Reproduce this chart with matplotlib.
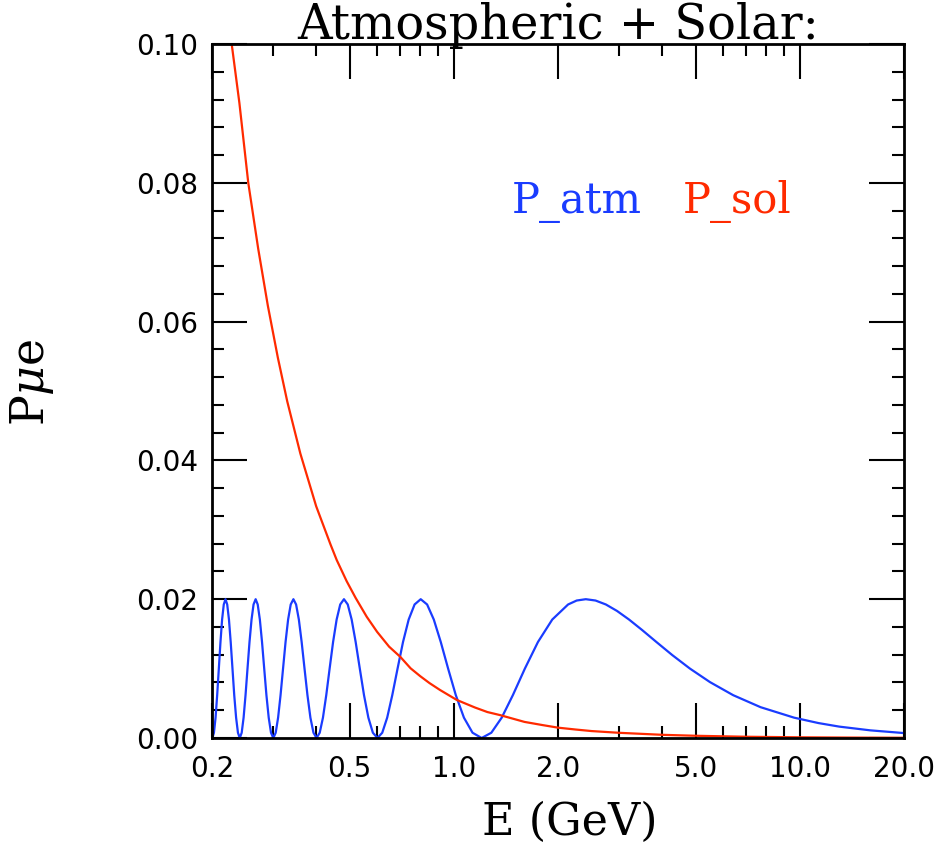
import matplotlib
matplotlib.use("Agg")
import matplotlib.pyplot as plt
from matplotlib.ticker import FixedLocator, FixedFormatter, NullFormatter

# P_atm curve (blue)
atm_E = [0.2000, 0.2005, 0.2026, 0.2048, 0.2070, 0.2093, 0.2116, 0.2139, 0.2163,
         0.2188, 0.2213, 0.2239, 0.2265, 0.2292, 0.2319, 0.2348, 0.2377,
         0.2406, 0.2437, 0.2468, 0.2500, 0.2533, 0.2567, 0.2602, 0.2637,
         0.2674, 0.2711, 0.2750, 0.2790, 0.2831, 0.2873, 0.2917, 0.2962,
         0.3008, 0.3056, 0.3105, 0.3156, 0.3209, 0.3263, 0.3319, 0.3377,
         0.3438, 0.3500, 0.3565, 0.3632, 0.3702, 0.3775, 0.3850, 0.3929,
         0.4011, 0.4096, 0.4185, 0.4278, 0.4375, 0.4477, 0.4584, 0.4695,
         0.4813, 0.4936, 0.5066, 0.5203, 0.5348, 0.5500, 0.5662, 0.5834,
         0.6016, 0.6210, 0.6417, 0.6638, 0.6876, 0.7130, 0.7404, 0.7701,
         0.8021, 0.8370, 0.8751, 0.9167, 0.9626, 1.0132, 1.0695, 1.1324,
         1.2032, 1.2834, 1.3751, 1.4809, 1.6043, 1.7501, 1.9251, 2.1390,
         2.2649, 2.4064, 2.5670, 2.7502, 2.9618, 3.2086, 3.5003, 3.8503,
         4.2781, 4.8129, 5.5004, 6.4171, 7.7006, 9.6257, 11.324, 13.0, 16.0, 20.0]
atm_P = [0.00005, 0.0, 0.00076, 0.00293, 0.00617, 0.0100, 0.01383, 0.01707, 0.01924,
         0.0200, 0.01924, 0.01707, 0.01383, 0.0100, 0.00617, 0.00293, 0.00076,
         0.0, 0.00076, 0.00293, 0.00617, 0.0100, 0.01383, 0.01707, 0.01924,
         0.0200, 0.01924, 0.01707, 0.01383, 0.0100, 0.00617, 0.00293, 0.00076,
         0.0, 0.00076, 0.00293, 0.00617, 0.0100, 0.01383, 0.01707, 0.01924,
         0.0200, 0.01924, 0.01707, 0.01383, 0.0100, 0.00617, 0.00293, 0.00076,
         0.0, 0.00076, 0.00293, 0.00617, 0.0100, 0.01383, 0.01707, 0.01924,
         0.0200, 0.01924, 0.01707, 0.01383, 0.0100, 0.00617, 0.00293, 0.00076,
         0.0, 0.00076, 0.00293, 0.00617, 0.0100, 0.01383, 0.01707, 0.01924,
         0.0200, 0.01924, 0.01707, 0.01383, 0.0100, 0.00617, 0.00293, 0.00076,
         0.0, 0.00076, 0.00293, 0.00617, 0.0100, 0.01383, 0.01707, 0.01924,
         0.01981, 0.0200, 0.01981, 0.01924, 0.01831, 0.01707, 0.01556, 0.01383,
         0.01195, 0.0100, 0.00805, 0.00617, 0.00444, 0.00293, 0.00215, 0.00164, 0.00110, 0.00071]

# P_sol curve (red)
sol_E = [0.220, 0.228, 0.240, 0.2546, 0.272, 0.290, 0.310, 0.330, 0.360, 0.400,
         0.440, 0.4586, 0.490, 0.520, 0.560, 0.600, 0.650, 0.700, 0.750, 0.800,
         0.850, 0.912, 1.020, 1.150, 1.250, 1.360, 1.600, 1.800, 2.000, 2.250,
         2.500, 3.000, 4.000, 5.000, 7.000, 10.0, 14.0, 20.0]
sol_P = [0.1080, 0.1000, 0.0915, 0.0800, 0.0705, 0.0623, 0.0548, 0.0485, 0.0410, 0.0334,
         0.0279, 0.02565, 0.0226, 0.0202, 0.01747, 0.0153, 0.01316, 0.0117, 0.01004, 0.0089,
         0.00792, 0.00692, 0.00548, 0.0044, 0.00374, 0.0033, 0.00232, 0.00187, 0.00149, 0.00122,
         0.00100, 0.00075, 0.00046, 0.00032, 0.00018, 0.00010, 0.00006, 0.00003]

x_major = [0.2, 0.5, 1.0, 2.0, 5.0, 10.0, 20.0]
x_major_labels = ["0.2", "0.5", "1.0", "2.0", "5.0", "10.0", "20.0"]
x_minor = [0.3, 0.4, 0.6, 0.7, 0.8, 0.9, 3.0, 4.0, 6.0, 7.0, 8.0, 9.0]
y_major = [0.0, 0.02, 0.04, 0.06, 0.08, 0.10]
y_major_labels = ["0.00", "0.02", "0.04", "0.06", "0.08", "0.10"]
y_minor = [i * 0.004 for i in range(26)]

blue = "#1a3cff"
red = "#ff2a00"

plt.rcParams["mathtext.fontset"] = "dejavuserif"

fig = plt.figure(figsize=(9.4, 8.47), dpi=100)
ax = fig.add_axes([212 / 940, 1 - 738 / 847, 692 / 940, 694 / 847])

ax.plot(atm_E, atm_P, color=blue, linewidth=1.6)
ax.plot(sol_E, sol_P, color=red, linewidth=1.6)

ax.set_xscale("log")
ax.set_xlim(0.2, 20.0)
ax.set_ylim(0.0, 0.10)

ax.xaxis.set_major_locator(FixedLocator(x_major))
ax.xaxis.set_major_formatter(FixedFormatter(x_major_labels))
ax.xaxis.set_minor_locator(FixedLocator(x_minor))
ax.xaxis.set_minor_formatter(NullFormatter())
ax.yaxis.set_major_locator(FixedLocator(y_major))
ax.yaxis.set_major_formatter(FixedFormatter(y_major_labels))
ax.yaxis.set_minor_locator(FixedLocator(y_minor))

ax.tick_params(which="both", direction="in", top=True, right=True, width=1.5, colors="black")
ax.tick_params(which="major", length=25)
ax.tick_params(which="minor", length=8.5)
ax.tick_params(axis="x", which="major", pad=12, labelsize=20)
ax.tick_params(axis="y", which="major", pad=10, labelsize=20)
for s in ax.spines.values():
    s.set_linewidth(2)

serif = "DejaVu Serif"
ax.text(0.5, 1.0065, "Atmospheric + Solar:", transform=ax.transAxes, ha="center",
        va="baseline", fontsize=34.5, family=serif)
ax.text(0.4335, 0.757, "P_atm", transform=ax.transAxes, ha="left", va="baseline",
        fontsize=30, family=serif, color=blue)
ax.text(0.6806, 0.757, "P_sol", transform=ax.transAxes, ha="left", va="baseline",
        fontsize=30, family=serif, color=red)

fig.text(570 / 940, 1 - 835 / 847, "E (GeV)", ha="center", va="baseline",
         fontsize=32, family=serif)
fig.text(32 / 940, 1 - 382 / 847, r"P$\mu$e", ha="center", va="center",
         rotation=90, fontsize=33, family=serif)

fig.savefig("out.png", dpi=100)
